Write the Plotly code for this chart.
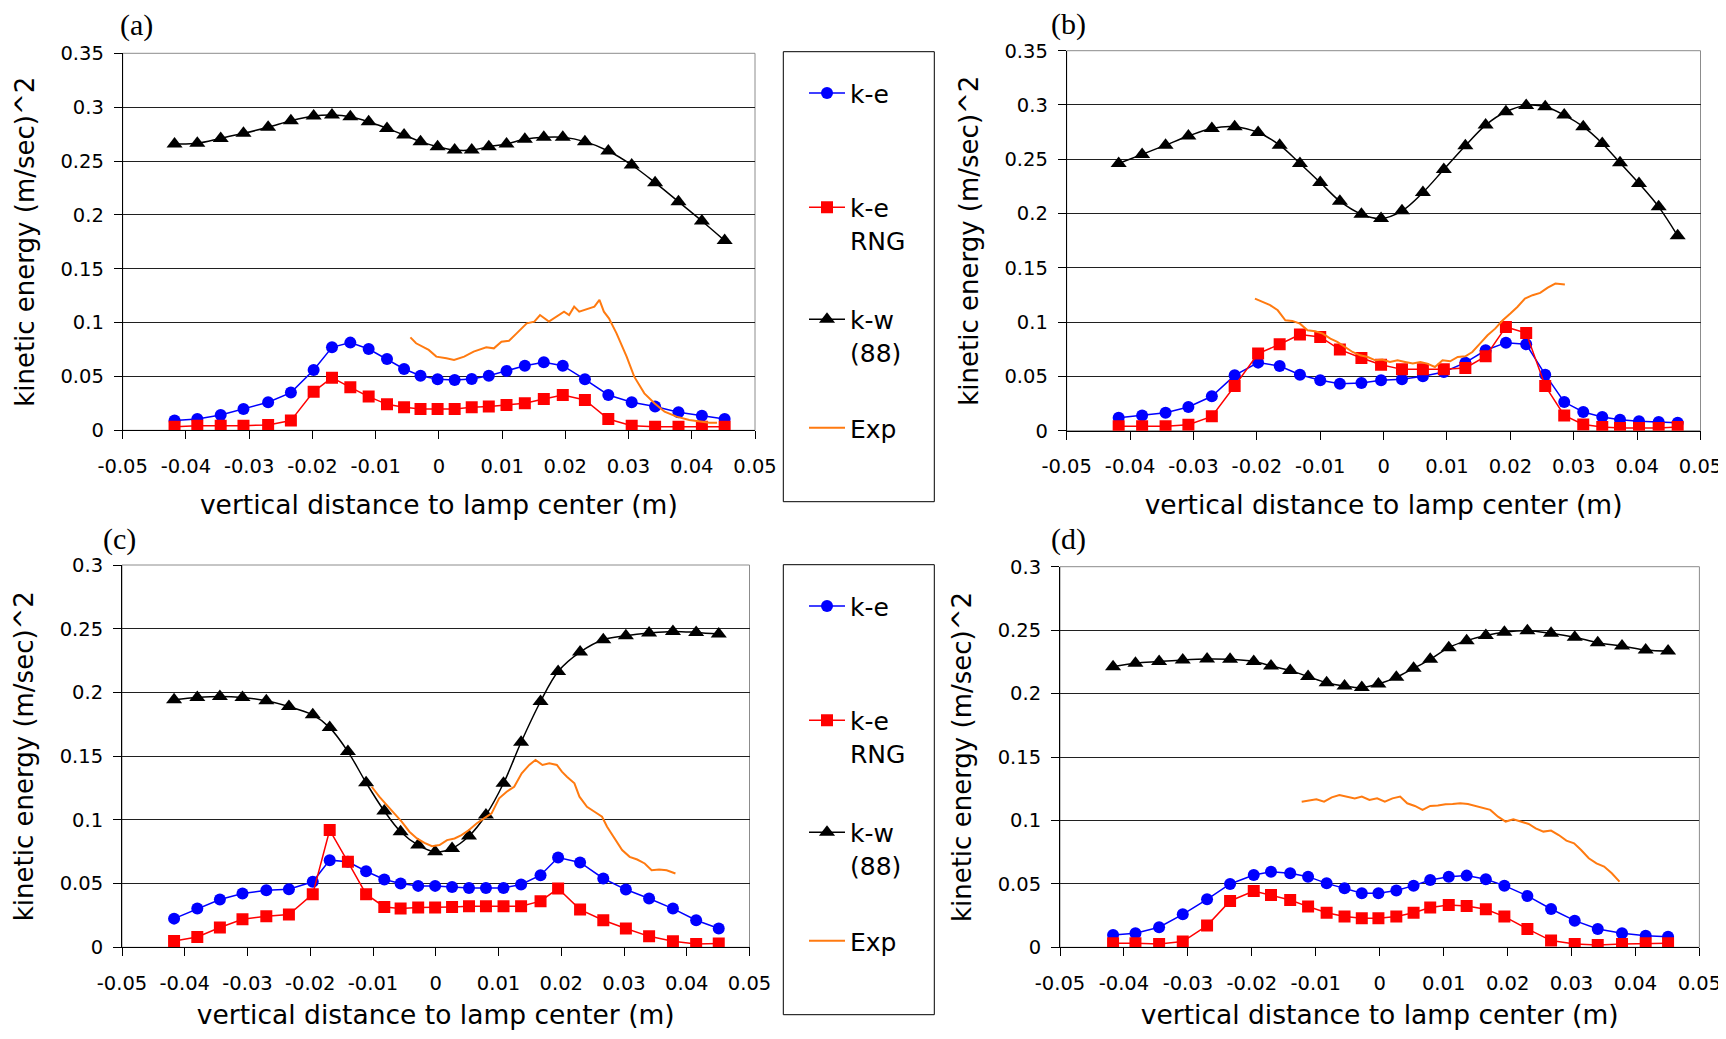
import plotly.graph_objects as go

# ---------------- data ----------------
x_tick_vals = [-0.05, -0.04, -0.03, -0.02, -0.01, 0.0, 0.01, 0.02, 0.03, 0.04, 0.05]
x_tick_labels = ["-0.05", "-0.04", "-0.03", "-0.02", "-0.01", "0", "0.01", "0.02", "0.03", "0.04", "0.05"]
y_tick_vals_ab = [0, 0.05, 0.10, 0.15, 0.20, 0.25, 0.30, 0.35]
y_tick_labels_ab = ["0", "0.05", "0.1", "0.15", "0.2", "0.25", "0.3", "0.35"]
y_tick_vals_cd = [0, 0.05, 0.10, 0.15, 0.20, 0.25, 0.30]
y_tick_labels_cd = ["0", "0.05", "0.1", "0.15", "0.2", "0.25", "0.3"]

series_names = ["k-e", "k-e<br>RNG", "k-w<br>(88)", "Exp"]
panel_labels = ["(a)", "(b)", "(c)", "(d)"]
x_title = "vertical distance to lamp center (m)"
y_title = "kinetic energy (m/sec)^2"

# panel (a)
xa = [-0.0418, -0.0382, -0.0345, -0.0309, -0.0270, -0.0234, -0.0198, -0.0169, -0.0140, -0.0111,
      -0.0082, -0.0055, -0.0029, -0.0002, 0.0025, 0.0052, 0.0079, 0.0107, 0.0136, 0.0166,
      0.0196, 0.0231, 0.0268, 0.0305, 0.0342, 0.0379, 0.0416, 0.0452]
ke_a = [0.009, 0.0105, 0.0142, 0.0198, 0.026, 0.035, 0.056, 0.077, 0.0814, 0.0755,
        0.0662, 0.0569, 0.0507, 0.0473, 0.0467, 0.0476, 0.0507, 0.0551, 0.060, 0.0631,
        0.060, 0.0473, 0.0328, 0.026, 0.022, 0.0167, 0.0136, 0.0105]
rng_a = [0.0034, 0.0043, 0.0043, 0.0043, 0.005, 0.009, 0.0359, 0.0489, 0.0399, 0.0313,
         0.0241, 0.0213, 0.0198, 0.0198, 0.0198, 0.0213, 0.022, 0.0235, 0.0251, 0.0291,
         0.0328, 0.0282, 0.0105, 0.0043, 0.0034, 0.0034, 0.0034, 0.0034]
kw_a = [0.2658, 0.2664, 0.271, 0.2757, 0.2813, 0.2874, 0.2918, 0.2927, 0.2912, 0.2865,
        0.2803, 0.2741, 0.268, 0.2633, 0.2602, 0.2602, 0.2633, 0.2658, 0.2701, 0.272,
        0.272, 0.268, 0.2593, 0.2463, 0.2299, 0.2122, 0.1943, 0.1761]
exp_a_x = [-0.0045, -0.0036, -0.0016, -0.0004, 0.0012, 0.0024, 0.0040, 0.0055, 0.0075, 0.0087,
           0.0099, 0.0111, 0.0123, 0.0139, 0.0151, 0.0160, 0.0174, 0.0186, 0.0198, 0.0206,
           0.0214, 0.0222, 0.0234, 0.0246, 0.0254, 0.0261, 0.0269, 0.0281, 0.0297, 0.0309,
           0.0325, 0.0341, 0.0357, 0.0376, 0.0396, 0.0412, 0.0428, 0.0440]
exp_a_y = [0.0863, 0.0808, 0.0746, 0.0684, 0.0668, 0.0653, 0.0684, 0.073, 0.077, 0.0761,
           0.0823, 0.0832, 0.090, 0.0993, 0.1009, 0.107, 0.1009, 0.1055, 0.1101, 0.107,
           0.1148, 0.1101, 0.1123, 0.1148, 0.121, 0.1101, 0.104, 0.090, 0.0684, 0.0498,
           0.0343, 0.0251, 0.0173, 0.0127, 0.0096, 0.008, 0.0071, 0.0071]

# panel (b)
xb = [-0.0418, -0.0381, -0.0344, -0.0308, -0.0271, -0.0235, -0.0198, -0.0164, -0.0132, -0.0100,
      -0.0069, -0.0035, -0.0004, 0.0029, 0.0062, 0.0095, 0.0129, 0.0161, 0.0193, 0.0225,
      0.0255, 0.0285, 0.0315, 0.0345, 0.0373, 0.0403, 0.0434, 0.0464]
ke_b = [0.012, 0.0141, 0.0166, 0.0218, 0.0317, 0.051, 0.0627, 0.0596, 0.0516, 0.0464,
        0.0433, 0.0439, 0.0464, 0.0473, 0.0501, 0.0541, 0.0627, 0.0741, 0.0811, 0.0796,
        0.0516, 0.0264, 0.0172, 0.0126, 0.0101, 0.0086, 0.008, 0.0074]
rng_b = [0.004, 0.004, 0.004, 0.0055, 0.0132, 0.0412, 0.071, 0.0796, 0.0885, 0.0864,
         0.0747, 0.067, 0.0608, 0.0565, 0.0565, 0.0565, 0.0578, 0.0685, 0.0956, 0.090,
         0.0412, 0.0141, 0.0058, 0.0034, 0.0025, 0.0025, 0.0025, 0.0034]
kw_b = [0.2461, 0.2545, 0.263, 0.2714, 0.2784, 0.280, 0.2747, 0.263, 0.2461, 0.2286,
        0.2114, 0.1994, 0.1954, 0.2025, 0.2194, 0.2406, 0.2624, 0.2815, 0.2938, 0.2996,
        0.2984, 0.2907, 0.280, 0.2646, 0.2468, 0.2277, 0.2062, 0.1795]
exp_b_x = [-0.0203, -0.0191, -0.0179, -0.0167, -0.0155, -0.0144, -0.0132, -0.0120, -0.0108, -0.0096,
           -0.0084, -0.0073, -0.0061, -0.0049, -0.0037, -0.0025, -0.0013, -0.0002, 0.0010, 0.0022,
           0.0034, 0.0046, 0.0058, 0.0069, 0.0081, 0.0093, 0.0105, 0.0117, 0.0129, 0.0140,
           0.0152, 0.0164, 0.0176, 0.0188, 0.0200, 0.0211, 0.0223, 0.0235, 0.0247, 0.0259,
           0.0271, 0.0286]
exp_b_y = [0.1217, 0.1186, 0.1156, 0.1109, 0.1017, 0.1011, 0.0986, 0.0925, 0.0916, 0.0894,
           0.0848, 0.0818, 0.0771, 0.0725, 0.0694, 0.0679, 0.0648, 0.0655, 0.0633, 0.0648,
           0.0633, 0.0618, 0.0633, 0.0618, 0.0587, 0.0648, 0.0639, 0.0679, 0.0685, 0.0725,
           0.0802, 0.0879, 0.094, 0.1017, 0.1079, 0.114, 0.1217, 0.1248, 0.1269, 0.1318,
           0.1355, 0.1346]

# panel (c)
xc = [-0.0417, -0.0380, -0.0344, -0.0308, -0.0270, -0.0234, -0.0196, -0.0169, -0.0140, -0.0111,
      -0.0082, -0.0056, -0.0028, -0.0001, 0.0026, 0.0053, 0.0080, 0.0108, 0.0136, 0.0167,
      0.0195, 0.0230, 0.0267, 0.0303, 0.0340, 0.0378, 0.0415, 0.0451]
ke_c = [0.0225, 0.0304, 0.0375, 0.0422, 0.0448, 0.0456, 0.0514, 0.0684, 0.0671, 0.0597,
        0.0532, 0.050, 0.0482, 0.0482, 0.0474, 0.0466, 0.0466, 0.0466, 0.0493, 0.0566,
        0.0705, 0.0666, 0.054, 0.0453, 0.0383, 0.0304, 0.0212, 0.0147]
rng_c = [0.005, 0.0081, 0.0155, 0.022, 0.0244, 0.0257, 0.0417, 0.092, 0.0671, 0.0417,
         0.0317, 0.0304, 0.0312, 0.0312, 0.0317, 0.0322, 0.0322, 0.0322, 0.0322, 0.0362,
         0.0461, 0.0296, 0.0212, 0.0147, 0.0086, 0.0047, 0.0026, 0.0029]
kw_c = [0.1942, 0.196, 0.1968, 0.196, 0.1934, 0.1889, 0.1824, 0.1724, 0.1536, 0.1292,
        0.1069, 0.0907, 0.0802, 0.0749, 0.0776, 0.0873, 0.1038, 0.1287, 0.1609, 0.1929,
        0.2165, 0.2317, 0.2414, 0.2445, 0.2466, 0.2479, 0.2471, 0.2458]
exp_c_x = [-0.0102, -0.0090, -0.0078, -0.0066, -0.0054, -0.0042, -0.0030, -0.0018, -0.0006, 0.0006,
           0.0018, 0.0030, 0.0041, 0.0053, 0.0065, 0.0077, 0.0089, 0.0101, 0.0113, 0.0125,
           0.0137, 0.0149, 0.0159, 0.0170, 0.0181, 0.0193, 0.0201, 0.0209, 0.0221, 0.0229,
           0.0241, 0.0253, 0.0265, 0.0273, 0.0285, 0.0297, 0.0309, 0.0321, 0.0333, 0.0344,
           0.0356, 0.0368, 0.0382]
exp_c_y = [0.126, 0.1182, 0.1116, 0.1051, 0.0985, 0.0907, 0.0854, 0.082, 0.0794, 0.0802,
           0.0841, 0.0854, 0.088, 0.092, 0.0972, 0.1012, 0.1051, 0.1169, 0.1221, 0.126,
           0.1365, 0.1431, 0.147, 0.1431, 0.1444, 0.1431, 0.1378, 0.1339, 0.1287, 0.1182,
           0.1103, 0.1064, 0.1025, 0.0946, 0.0854, 0.0763, 0.071, 0.0689, 0.0658, 0.0605,
           0.0611, 0.0605, 0.0579]

# panel (d)
xd = [-0.0417, -0.0382, -0.0345, -0.0308, -0.0270, -0.0234, -0.0197, -0.0170, -0.0140, -0.0112,
      -0.0083, -0.0055, -0.0028, -0.0002, 0.0026, 0.0053, 0.0079, 0.0108, 0.0136, 0.0166,
      0.0195, 0.0231, 0.0268, 0.0305, 0.0341, 0.0379, 0.0416, 0.0451]
ke_d = [0.0097, 0.011, 0.0158, 0.026, 0.0378, 0.0499, 0.057, 0.0596, 0.0583, 0.0557,
        0.0504, 0.0465, 0.0426, 0.0426, 0.0447, 0.0486, 0.0531, 0.0557, 0.0565, 0.0536,
        0.0486, 0.0405, 0.0302, 0.021, 0.0145, 0.011, 0.0092, 0.0084]
rng_d = [0.0032, 0.0032, 0.0026, 0.0045, 0.0171, 0.0365, 0.0444, 0.0413, 0.0373, 0.0321,
         0.0273, 0.0242, 0.0229, 0.0229, 0.0242, 0.0273, 0.0313, 0.0334, 0.0326, 0.030,
         0.0242, 0.0145, 0.0053, 0.0026, 0.0018, 0.0026, 0.0032, 0.0032]
kw_d = [0.2212, 0.2239, 0.2252, 0.2265, 0.2273, 0.227, 0.2252, 0.2218, 0.2181, 0.2134,
        0.2086, 0.206, 0.2047, 0.2076, 0.2128, 0.2199, 0.227, 0.2362, 0.2417, 0.2457,
        0.2483, 0.2496, 0.2475, 0.2444, 0.2401, 0.2375, 0.2344, 0.2336]
exp_d_x = [-0.0122, -0.0110, -0.0099, -0.0087, -0.0075, -0.0063, -0.0051, -0.0039, -0.0028, -0.0016,
           -0.0004, 0.0008, 0.0020, 0.0032, 0.0043, 0.0055, 0.0067, 0.0079, 0.0091, 0.0103,
           0.0114, 0.0126, 0.0138, 0.0150, 0.0162, 0.0173, 0.0185, 0.0197, 0.0209, 0.0221,
           0.0233, 0.0244, 0.0256, 0.0268, 0.0280, 0.0292, 0.0304, 0.0315, 0.0327, 0.0339,
           0.0351, 0.0363, 0.0375]
exp_d_y = [0.1148, 0.1161, 0.1167, 0.1148, 0.1182, 0.120, 0.1188, 0.1174, 0.1188, 0.1161,
           0.1174, 0.1148, 0.1174, 0.1188, 0.1135, 0.1114, 0.1083, 0.1114, 0.1117, 0.1127,
           0.113, 0.1135, 0.113, 0.1114, 0.1096, 0.1083, 0.103, 0.0991, 0.1009, 0.0991,
           0.0972, 0.0938, 0.0912, 0.092, 0.0885, 0.0841, 0.082, 0.0767, 0.0702, 0.0662,
           0.0636, 0.0583, 0.0518]

panels = [
    (xa, ke_a, rng_a, kw_a, exp_a_x, exp_a_y),
    (xb, ke_b, rng_b, kw_b, exp_b_x, exp_b_y),
    (xc, ke_c, rng_c, kw_c, exp_c_x, exp_c_y),
    (xd, ke_d, rng_d, kw_d, exp_d_x, exp_d_y),
]

# ---------------- layout geometry ----------------
# target positions are given in pixels of the 1726x1039 window; the page body
# has an 8px default margin, so the figure is shifted by 8px and sized so the
# page does not overflow (no scrollbars).
OFF = 8.0
W, H = 1726 - 8, 1039 - 17


def px(v):
    return (v - OFF) / W


def py(v):
    return 1 - (v - OFF) / H


# left, right, top, bottom of each plot area (window pixels)
boxes = [
    (122.7, 755.0, 53.3, 430.3),
    (1066.7, 1700.5, 50.7, 430.7),
    (122.0, 749.5, 565.0, 947.3),
    (1060.0, 1699.4, 566.7, 947.3),
]
label_pos = [(136.7, 25.0), (1068.7, 24.5), (120.0, 538.5), (1068.7, 538.5)]
title_standoff = [18, 18, 15, 15]

SANS = "DejaVu Sans"
BLUE, RED, BLACK, ORANGE = "#0000FF", "#FF0000", "#000000", "#FF7A10"

fig = go.Figure()
layout = dict(
    width=W, height=H,
    margin=dict(l=0, r=0, t=0, b=0, pad=0, autoexpand=False),
    paper_bgcolor="white", plot_bgcolor="white",
    font=dict(family=SANS, color="black"),
    shapes=[], annotations=[],
)

for i, (xs, ke, rng, kw, ex, ey) in enumerate(panels):
    n = "" if i == 0 else str(i + 1)
    xref, yref = "x" + n, "y" + n
    l, r, t, b = boxes[i]
    legend_panel = i in (0, 2)
    base_leg = 0 if i == 0 else 4
    legs = []
    for k in range(4):
        idx = base_leg + k + 1
        legs.append("legend" if idx == 1 else "legend" + str(idx))

    fig.add_trace(go.Scatter(
        x=xs, y=ke, xaxis=xref, yaxis=yref, mode="lines+markers", name=series_names[0],
        line=dict(color=BLUE, width=1.5), marker=dict(symbol="circle", size=12, color=BLUE),
        showlegend=legend_panel, legend=legs[0]))
    fig.add_trace(go.Scatter(
        x=xs, y=rng, xaxis=xref, yaxis=yref, mode="lines+markers", name=series_names[1],
        line=dict(color=RED, width=1.5), marker=dict(symbol="square", size=12, color=RED),
        showlegend=legend_panel, legend=legs[1]))
    fig.add_trace(go.Scatter(
        x=xs, y=kw, xaxis=xref, yaxis=yref, mode="lines+markers", name=series_names[2],
        line=dict(color=BLACK, width=1.5, shape="spline", smoothing=1.0),
        marker=dict(symbol="triangle-up", size=14, color=BLACK),
        showlegend=legend_panel, legend=legs[2]))
    fig.add_trace(go.Scatter(
        x=ex, y=ey, xaxis=xref, yaxis=yref, mode="lines", name=series_names[3],
        line=dict(color=ORANGE, width=2),
        showlegend=legend_panel, legend=legs[3]))

    yv, yl, yr = (y_tick_vals_ab, y_tick_labels_ab, 0.35) if i < 2 else (y_tick_vals_cd, y_tick_labels_cd, 0.30)

    layout["xaxis" + n] = dict(
        domain=[px(l), px(r)], anchor=yref, range=[-0.05, 0.05], automargin=False,
        tickmode="array", tickvals=x_tick_vals, ticktext=x_tick_labels,
        ticks="outside", ticklen=8, tickcolor="black", tickwidth=1,
        showline=True, linecolor="black", linewidth=1,
        showgrid=False, zeroline=False, ticklabelstandoff=10, ticklabeloverflow="allow",
        tickfont=dict(family=SANS, size=19.5, color="black"),
        title=dict(text=x_title, font=dict(family=SANS, size=26.5, color="black"),
                   standoff=title_standoff[i]),
    )
    layout["yaxis" + n] = dict(
        domain=[py(b), py(t)], anchor=xref, range=[0, yr], automargin=False,
        tickmode="array", tickvals=yv, ticktext=yl,
        ticks="outside", ticklen=8, tickcolor="black", tickwidth=1,
        showline=True, linecolor="black", linewidth=1,
        showgrid=True, gridcolor="#202020", gridwidth=1, zeroline=False,
        ticklabelstandoff=6, ticklabeloverflow="allow",
        tickfont=dict(family=SANS, size=19.5, color="black"),
        title=dict(text=y_title, font=dict(family=SANS, size=26, color="black"), standoff=18),
    )
    # grey plot-area border (top/right edges as in the original)
    layout["shapes"].append(dict(
        type="rect", xref=xref + " domain", yref=yref + " domain",
        x0=0, x1=1, y0=0, y1=1, line=dict(color="#8c8c8c", width=1), layer="below"))
    lx, ly = label_pos[i]
    layout["annotations"].append(dict(
        text=panel_labels[i], xref="paper", yref="paper", x=px(lx), y=py(ly),
        xanchor="center", yanchor="middle", showarrow=False,
        font=dict(family="Liberation Serif", size=30, color="black")))

# legend frames
legend_frames = [(783.3, 934.3, 51.7, 501.7), (783.3, 934.3, 564.7, 1014.7)]
for (x0, x1, y0, y1) in legend_frames:
    layout["shapes"].append(dict(
        type="rect", xref="paper", yref="paper",
        x0=px(x0), x1=px(x1), y0=py(y1), y1=py(y0),
        line=dict(color="black", width=1), fillcolor="rgba(0,0,0,0)"))

# legend entry centres (y in px) inside each frame
entry_y = [93.3, 223.5, 335.5, 428.0]
for f, off in enumerate([0.0, 513.0]):
    for k in range(4):
        idx = f * 4 + k + 1
        key = "legend" if idx == 1 else "legend" + str(idx)
        layout[key] = dict(
            x=px(804), xanchor="left", y=py(entry_y[k] + off), yanchor="middle",
            bgcolor="rgba(0,0,0,0)", borderwidth=0, itemwidth=36, valign="top",
            font=dict(family=SANS, size=25, color="black"), tracegroupgap=0,
        )

fig.update_layout(**layout)
fig.write_html("out.html")
